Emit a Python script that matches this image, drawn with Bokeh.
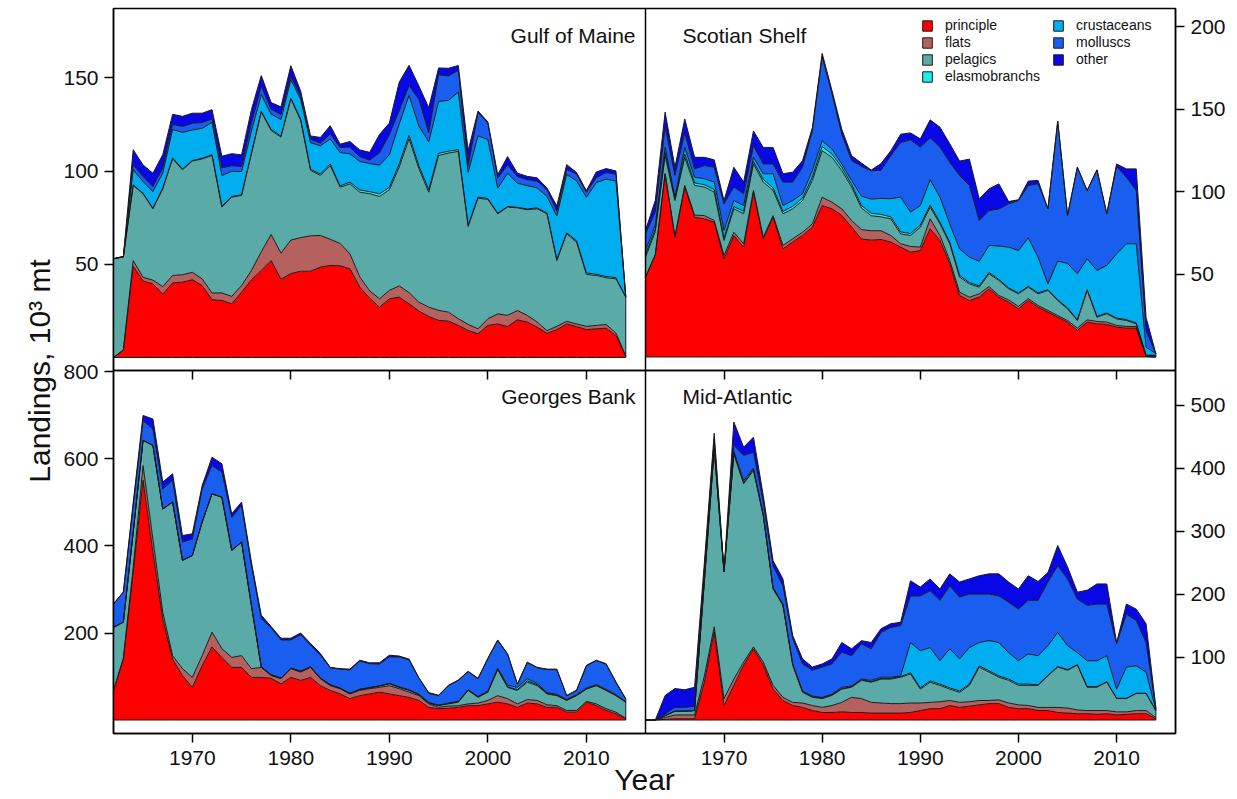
from bokeh.plotting import figure
from bokeh.models import (Range1d, LinearAxis, FixedTicker, Span, Legend, LegendItem,
                          ColumnDataSource, Label)
from bokeh.embed import file_html
from bokeh.resources import INLINE

# ---------------------------------------------------------------- data
years = list(range(1962, 2015))
series = ["principle", "flats", "pelagics", "elasmobranchs", "crustaceans", "molluscs", "other"]
series_colors = ["#FF0000", "#B5615F", "#5AAAA8", "#1EEDED", "#00AEEF", "#1A5EF0", "#0808E6"]

x_ticks = [1970, 1980, 1990, 2000, 2010]
gom_ticks = [50, 100, 150]
ss_ticks = [50, 100, 150, 200]
gb_ticks = [200, 400, 600, 800]
ma_ticks = [100, 200, 300, 400, 500]

# Gulf of Maine
gom_principle = [0, 4, 49, 41, 39.5, 34, 40, 40.4, 41.7, 38.6,
                 31, 30.6, 28.8, 35, 41.7, 46.7, 52, 42, 45, 46.3,
                 46.3, 48.5, 49.4, 49.2, 47.6, 37.8, 31.8, 27, 31.5, 32.4,
                 28.8, 24.9, 22, 19.9, 19.5, 17.2, 14.5, 12.7, 17.2, 18,
                 16.6, 20.2, 19, 16.3, 13, 14.9, 18, 16.6, 14.9, 15.4,
                 15.7, 11.8, 0.5]
gom_flats = [0, 0, 3, 2, 2, 4, 4, 4, 4, 3.6,
             3.6, 4, 4, 3.6, 5, 10, 14, 14, 18, 18,
             19, 17, 14, 12, 8, 5.4, 4, 4.5, 4.5, 6,
             6, 4.8, 5, 5.4, 4.8, 3.6, 3.2, 2.7, 3.6, 5.4,
             6, 5, 3.6, 2.7, 1.4, 1.8, 1.4, 1.4, 1.8, 1.8,
             2, 1.3, 0.5]
gom_pelagics = [53, 50, 40.3, 44.8, 38.3, 52.5, 62.6, 56.3, 59.7, 64.4,
                73.8, 46.1, 53.2, 48.4, 62.6, 75, 55.8, 62.3, 75.8, 62.9,
                35.1, 32.2, 39.6, 30.2, 37.6, 45.5, 52.1, 54.9, 54, 63.8,
                82.6, 71.6, 61.7, 83.1, 85.4, 89.8, 52.6, 70.1, 64, 53.7,
                58.1, 55.1, 56.7, 60.8, 62.7, 35.3, 47, 43.9, 27.9, 26.8,
                25.1, 29.1, 31.4]
gom_elasmobranchs = [0, 0, 0.4, 0.3, 0.3, 0.4, 0.5, 0.4, 0.3, 0.3,
                     0.4, 0.5, 0.4, 0.3, 0.4, 0.5, 0.6, 0.5, 0.4, 0.5,
                     0.6, 0.7, 0.8, 0.7, 0.9, 1.2, 1.1, 1.4, 1.3, 1.7,
                     1.8, 1.5, 1.4, 1.2, 1.0, 0.9, 0.8, 0.6, 0.5, 0.4,
                     0.3, 0.3, 0.4, 0.5, 0.4, 0.6, 0.5, 0.7, 0.8, 0.6,
                     0.7, 0.6, 0]
gom_crustaceans = [0, 0, 8.1, 6.3, 8.9, 8.1, 15.2, 19.7, 16.4, 16.1,
                   17.4, 16.5, 13.5, 12.5, 11.7, 8.9, 8.2, 8.9, 9.9, 10.8,
                   14.3, 15.2, 13.5, 17.9, 15.2, 15.3, 15.1, 15.4, 17.5, 21.4,
                   21.4, 21.4, 25.6, 27.8, 27.3, 30.9, 28.3, 32.8, 31.7, 13.4,
                   17.9, 12.9, 12.5, 10.7, 8.9, 23.3, 31.3, 32.2, 40.6, 49.2,
                   52.2, 51.9, 0]
gom_molluscs = [0, 0, 2.6, 2.7, 2.7, 2.7, 2.7, 3.2, 3.6, 3.1,
                1.8, 4.1, 3, 2.7, 4.4, 4.5, 2.6, 2.8, 1.8, 1.7,
                1.8, 1.4, 2.7, 2.7, 3.6, 2.6, 1.8, 6.6, 10.8, 7.2,
                5.4, 14.3, 4.9, 14.3, 13.1, 11.7, 3.6, 12.5, 8.9, 5.4,
                4.4, 3.6, 3.2, 3.6, 3.6, 2.7, 2.7, 3.6, 2.7, 2.7,
                3.6, 3.6, 0]
gom_other = [0, 0.3, 8.1, 6.2, 7.2, 7.1, 5.5, 5.4, 5.4, 5,
             5, 6.2, 6.5, 6.2, 7.2, 5.7, 3.6, 4, 5.7, 2.7,
             1.8, 3.1, 4.4, 1.8, 3, 3.6, 4.2, 9.9, 6.2, 15.2,
             10.8, 7.2, 13.4, 3.7, 4.1, 2.6, 8, 0.9, 0.5, 1.8,
             4.5, 1.8, 1.8, 1.8, 0.9, 2.7, 2.6, 0.9, 0.8, 3,
             2.1, 1.8, 0]

# Scotian Shelf
ss_principle = [48.4, 62, 111, 72.6, 103, 84.7, 83.7, 81.7, 59.5, 73.6,
                66.6, 99.9, 71.6, 84.7, 65.6, 69.6, 73.6, 78.7, 91.8, 89.8,
                85.8, 78.7, 71.5, 70.8, 71.2, 69.6, 66.6, 63.5, 64.5, 77.7,
                70.6, 56.5, 37.3, 34.2, 36.3, 41.3, 36.3, 33.2, 29.2, 34.2,
                30.2, 27.2, 24.1, 21.1, 16.1, 21.1, 20.1, 19.7, 18.1, 17.5,
                17.5, 0.3, 0]
ss_flats = [0, 0, 0, 0.4, 1, 1.3, 2, 1, 2, 2,
            2, 1.1, 1, 1, 2, 2, 2, 2, 5, 4,
            4, 4, 5.7, 5.7, 5.3, 4, 2, 3.5, 2.1, 6,
            3, 2, 2, 2, 2, 1.4, 1, 1.4, 1.4, 1.2,
            1, 1, 1, 1, 1.4, 1.4, 1.4, 1.4, 1, 1,
            1, 0, 0]
ss_pelagics = [12.1, 14, 11, 21.8, 17, 18, 17.3, 17.2, 9.1, 14.2,
               18.2, 16, 33.4, 15.3, 19.2, 18.2, 19.2, 26.3, 28.2, 27.2,
               23.2, 20.3, 13.1, 9.1, 8.4, 10.1, 6, 6.6, 12.1, 7.1,
               7.1, 10.1, 9.1, 8.1, 4, 7.7, 9.1, 6.7, 7.7, 6.9,
               7.1, 12.1, 9.1, 7.1, 4.6, 17.8, 2.6, 5.1, 4, 3.6,
               1.6, 0.7, 1]
ss_elasmobranchs = [1.5, 1.4, 2, 1, 2, 1.5, 1.4, 1.6, 1.5, 1.3,
                    1.5, 1.4, 1.6, 1.5, 1.4, 1.5, 1.5, 2, 2.5, 2,
                    2, 1.5, 1.5, 1.5, 1.5, 1.2, 1.2, 1.2, 1.2, 1.2,
                    1, 1, 1, 0.8, 0.8, 0.8, 0.6, 0.6, 0.5, 0.5,
                    0.5, 0.5, 0.5, 0.5, 0.5, 0.5, 0.5, 0.5, 0.5, 0.5,
                    0.5, 0, 0]
ss_crustaceans = [2.5, 2.6, 3, 1.1, 4, 3.5, 3.6, 4.5, 4.6, 3.7,
                  3.5, 2.6, 3.4, 8.5, 3.6, 3.5, 2.6, 4, 3.5, 3,
                  2, 2.5, 5.6, 8.6, 9.7, 11, 21.1, 13, 11.9, 15.4,
                  15.2, 11.1, 16.1, 15.4, 14.9, 16.4, 20.2, 24.7, 25.7, 29.4,
                  21.7, 3.5, 23.4, 27, 27.8, 18.7, 27.8, 28.8, 38.9, 46,
                  48, 5, 1]
ss_molluscs = [10.1, 8, 12.3, 13.1, 9, 5, 8, 9, 16.1, 8.2,
               7.1, 7, 6, 6, 14.2, 11.2, 16.1, 24, 51, 33.5,
               18, 12, 18.1, 17.1, 17.1, 26.1, 33.1, 43.8, 35.4, 25.4,
               30.3, 37.3, 44.5, 43.5, 24.7, 21.1, 22.5, 26.2, 30.3, 31.7,
               44.5, 45.5, 84.8, 29.1, 64.6, 41.4, 61, 31.3, 52.9, 40.3,
               32.3, 10, 0]
ss_other = [2.1, 7, 9.1, 5, 8.3, 7, 5, 4.5, 2, 12,
            7.1, 9, 10, 10, 5, 6, 4, 2, 2, 2,
            3, 3, 2, 0.5, 4, 3, 5, 4.2, 5, 10.9,
            12.1, 11.2, 8.7, 15.9, 13.2, 13.2, 15.2, 1.4, 0.5, 2.7,
            2, 0, 0, 0, 0, 0, 0, 0, 1.6, 5.1,
            13.1, 8, 0]

# Georges Bank
gb_principle = [68, 140, 340, 551, 385, 232, 140, 102, 75, 125,
                168, 144, 121, 121, 98, 98, 96, 83, 98, 91,
                98, 79, 68, 60, 49, 56, 60, 64, 60, 56,
                52, 45, 29, 26, 27, 29, 33, 33, 37, 41,
                37, 29, 39, 37, 29, 29, 18, 18, 41, 33,
                22, 14, 3]
gb_flats = [0, 2, 10, 34, 31, 16, 8, 16, 23, 23,
            34, 20, 23, 27, 20, 23, 6, 12, 20, 19,
            23, 16, 11, 12, 11, 12, 12, 11, 19, 16,
            12, 11, 8, 3, 5, 4, 4, 6, 8, 15,
            12, 8, 8, 8, 6, 4, 4, 4, 2, 4,
            4, 4, 1]
gb_pelagics = [145, 83, 82, 58, 215, 237, 353, 249, 280, 307,
               318, 348, 246, 261, 145, 1, 2, 1, 1, 2,
               1, 1, 2, 1, 1, 2, 2, 3, 4, 3,
               4, 2, 2, 4, 5, 8, 31, 13, 19, 60,
               26, 31, 40, 34, 25, 23, 23, 34, 28, 42,
               42, 38, 37]
gb_elasmobranchs = [0, 0, 0, 0, 0, 0, 0, 0, 0, 0,
                    0, 0, 0, 0, 0, 0, 0, 0, 0, 0,
                    0, 0, 0, 0, 0, 0.5, 0.5, 0.5, 1, 1,
                    1, 1, 1, 1, 1, 1, 1, 1, 1, 1,
                    1, 2, 3, 2, 1, 1, 0.5, 0.5, 0.5, 0.5,
                    0.5, 0.5, 0]
gb_crustaceans = [0, 0, 0, 0, 0, 0, 0, 0, 0, 0,
                  0, 0, 0, 0, 0, 0, 0, 0, 0, 0,
                  0, 0, 0, 0, 0, 0, 0, 0, 0, 0,
                  0, 0, 0, 0, 1, 1, 1, 1, 2, 2,
                  4, 5, 5, 3, 2, 2, 2, 2, 2, 2,
                  2, 2, 1]
gb_molluscs = [54, 69, 61, 45, 38, 46, 50, 42, 38, 76,
               65, 58, 76, 84, 92, 111, 108, 88, 65, 84,
               50, 53, 39, 44, 54, 65, 55, 50, 61, 69,
               69, 37, 21, 22, 40, 48, 41, 41, 74, 64,
               71, 7, 37, 36, 53, 57, 8, 9, 51, 55,
               58, 28, 6]
gb_other = [0, 0, 7, 12, 23, 16, 15, 15, 12, 8,
            19, 19, 8, 8, 8, 8, 3, 4, 4, 4,
            4, 4, 1, 1, 2, 2, 2, 3, 4, 2,
            2, 1, 2, 1, 1, 1, 1, 1, 1, 1,
            1, 1, 1, 1, 1, 1, 1, 1, 1, 1,
            1, 1, 1]

# Mid-Atlantic
ma_principle = [0, 0, 1, 2, 2, 2, 60, 140, 23, 55,
                87, 113, 87, 49, 31, 23, 20, 15, 12, 12,
                13, 12, 12, 11, 11, 11, 11, 12, 15, 18,
                18, 23, 20, 22, 24, 26, 26, 20, 18, 18,
                15, 15, 12, 11, 10, 10, 9, 10, 8, 9,
                10, 10, 2]
ma_flats = [0, 0, 3, 6, 6, 6, 10, 8, 11, 10,
            5, 3, 5, 6, 5, 5, 7, 8, 8, 11,
            15, 24, 22, 17, 16, 15, 15, 15, 12, 10,
            11, 8, 8, 7, 7, 5, 6, 7, 6, 5,
            5, 5, 8, 8, 6, 5, 6, 5, 5, 4,
            5, 5, 2]
ma_pelagics = [0, 0, 3, 6, 6, 7, 150, 282, 201, 357,
               283, 280, 232, 153, 146, 59, 17, 13, 14, 16,
               21, 16, 29, 32, 38, 39, 42, 46, 22, 32,
               26, 18, 16, 26, 53, 45, 36, 36, 31, 32,
               35, 50, 64, 60, 71, 37, 37, 45, 21, 21,
               27, 27, 11]
ma_elasmobranchs = [0, 0, 0, 0, 0, 0, 1, 1, 0, 2,
                    2, 2, 1, 1, 1, 1, 1, 1, 1, 1,
                    1, 1, 1, 1, 1, 1, 1, 2, 2, 2,
                    2, 2, 2, 2, 2, 2, 2, 2, 2, 2,
                    1, 1, 1, 1, 1, 1, 1, 1, 0.5, 0.5,
                    0.5, 0.5, 0]
ma_crustaceans = [0, 0, 0, 0, 0, 0, 1, 1, 0, 2,
                  3, 2, 1, 1, 1, 1, 1, 1, 1, 1,
                  2, 1, 1, 2, 2, 2, 1, 48, 59, 53,
                  37, 62, 51, 58, 37, 48, 53, 42, 37, 48,
                  46, 47, 54, 38, 19, 41, 41, 41, 14.5, 49.5,
                  43.5, 33.5, 1]
ma_molluscs = [0, 0, 3, 6, 6, 7, 18, 13, 1, 10,
               40, 25, 20, 35, 29, 40, 43, 41, 48, 48,
               56, 48, 56, 50, 71, 79, 80, 74, 87, 90,
               96, 100, 98, 85, 77, 74, 74, 80, 82, 85,
               88, 101, 106, 106, 85, 88, 90, 82, 72, 84,
               72, 47, 2]
ma_other = [0, 0, 29, 30, 28, 30, 10, 10, 1, 37,
            13, 24, 10, 8, 11, 5, 8, 5, 5, 8,
            15, 11, 5, 10, 6, 6, 5, 24, 14, 19,
            18, 19, 24, 24, 29, 32, 35, 32, 32, 39,
            30, 15, 32, 19, 11, 24, 32, 32, 2, 16,
            18, 30, 2]

# ---------------------------------------------------------------- layout constants (pixels)
BORDER_L, BORDER_T, BORDER_R, BORDER_B = 113, 8, 54, 66
FRAME_W, FRAME_H = 1062, 725
LEFT_W, RIGHT_W = 532, 530
TOP_H, BOT_H = 362, 363
XMIN, XMAX = 1962, 2016
GOM_WIN = (-7.0, 187.3)
SS_WIN = (-8.2, 211.2)
GB_WIN = (-31.0, 803.4)
MA_WIN = (-21.4, 554.8)
FONT = "Liberation Sans"
EDGE = "#1a1a1a"

p = figure(frame_width=FRAME_W, frame_height=FRAME_H,
           min_border_left=BORDER_L, min_border_right=BORDER_R,
           min_border_top=BORDER_T, min_border_bottom=BORDER_B,
           x_range=Range1d(0, 1), y_range=Range1d(0, 1),
           x_axis_type=None, y_axis_type=None,
           output_backend="svg", toolbar_location=None)
p.outline_line_color = "black"
p.outline_line_width = 1.5
p.background_fill_color = "white"
p.border_fill_color = "white"

xspan = XMAX - XMIN
p.extra_x_ranges = {
    "xl": Range1d(XMIN, XMIN + xspan * FRAME_W / LEFT_W),
    "xr": Range1d(XMAX - xspan * FRAME_W / RIGHT_W, XMAX),
}


def top_range(lo, hi):
    return Range1d(hi - (hi - lo) * FRAME_H / TOP_H, hi)


def bot_range(lo, hi):
    return Range1d(lo, lo + (hi - lo) * FRAME_H / BOT_H)


p.extra_y_ranges = {
    "gom": top_range(*GOM_WIN),
    "ss": top_range(*SS_WIN),
    "gb": bot_range(*GB_WIN),
    "ma": bot_range(*MA_WIN),
}

panels = [
    ("xl", "gom", [gom_principle, gom_flats, gom_pelagics, gom_elasmobranchs,
                   gom_crustaceans, gom_molluscs, gom_other]),
    ("xr", "ss", [ss_principle, ss_flats, ss_pelagics, ss_elasmobranchs,
                  ss_crustaceans, ss_molluscs, ss_other]),
    ("xl", "gb", [gb_principle, gb_flats, gb_pelagics, gb_elasmobranchs,
                  gb_crustaceans, gb_molluscs, gb_other]),
    ("xr", "ma", [ma_principle, ma_flats, ma_pelagics, ma_elasmobranchs,
                  ma_crustaceans, ma_molluscs, ma_other]),
]

sources = {}
for xr_name, yr_name, cols in panels:
    data = {"year": years}
    data.update(dict(zip(series, cols)))
    src = ColumnDataSource(data)
    sources[yr_name] = src
    p.varea_stack(series, x="year", source=src, fill_color=series_colors,
                  x_range_name=xr_name, y_range_name=yr_name)
    p.vline_stack(series, x="year", source=src, line_color=EDGE, line_width=1,
                  x_range_name=xr_name, y_range_name=yr_name)
    p.line(x="year", y=0, source=src, line_color=EDGE, line_width=1,
           x_range_name=xr_name, y_range_name=yr_name)
    # closing edge of the stacked polygons at the last year
    end_src = ColumnDataSource(dict(year=[years[-1]], total=[sum(c[-1] for c in cols)]))
    p.segment(x0="year", y0=0, x1="year", y1="total", source=end_src,
              line_color=EDGE, line_width=1, x_range_name=xr_name, y_range_name=yr_name)


# ---- tick positions of every panel expressed as a fraction of the whole frame
def frac_top(v, win):
    lo, hi = win
    return round((BOT_H + (v - lo) / (hi - lo) * TOP_H) / FRAME_H, 6)


def frac_bot(v, win):
    lo, hi = win
    return round((v - lo) / (hi - lo) * BOT_H / FRAME_H, 6)


def frac_left(yr):
    return round((yr - XMIN) / xspan * LEFT_W / FRAME_W, 6)


def frac_right(yr):
    return round((LEFT_W + (yr - XMIN) / xspan * RIGHT_W) / FRAME_W, 6)


def ticker_and_labels(pairs):
    ticks = [t for t, _ in pairs]
    overrides = {}
    for t, v in pairs:
        overrides[t] = str(v)
        overrides[str(t)] = str(v)
    return FixedTicker(ticks=ticks), overrides


def style_axis(ax, standoff=6, labels=True):
    ax.major_tick_in = 0
    ax.major_tick_out = 9
    ax.minor_tick_line_color = None
    ax.axis_line_color = "black"
    ax.axis_line_width = 1.5
    ax.major_tick_line_color = "black"
    ax.major_tick_line_width = 1.5
    ax.major_label_text_font = FONT
    ax.major_label_text_font_size = "21px"
    ax.major_label_text_color = "#111111" if labels else None
    ax.major_label_standoff = standoff
    ax.axis_label_text_font = FONT
    ax.axis_label_text_font_style = "normal"
    ax.axis_label_text_font_size = "30px"
    ax.axis_label_text_color = "#111111"
    return ax


# bottom x axis (both bottom panels) with the shared "Year" title
tk, ov = ticker_and_labels([(frac_left(y), y) for y in x_ticks] +
                           [(frac_right(y), y) for y in x_ticks])
ax = style_axis(LinearAxis(ticker=tk, major_label_overrides=ov, axis_label="Year"), standoff=8)
ax.axis_label_standoff = -5
p.add_layout(ax, "below")

# tick marks of the top panels, on the divider line
for name in ("xl", "xr"):
    ax = style_axis(LinearAxis(x_range_name=name, ticker=FixedTicker(ticks=x_ticks),
                               fixed_location=BOT_H / FRAME_H), labels=False)
    p.add_layout(ax, "below")

# left y axis (Gulf of Maine + Georges Bank)
tk, ov = ticker_and_labels([(frac_top(v, GOM_WIN), v) for v in gom_ticks] +
                           [(frac_bot(v, GB_WIN), v) for v in gb_ticks])
ax = style_axis(LinearAxis(ticker=tk, major_label_overrides=ov, axis_label="Landings, 10³ mt"))
ax.axis_label_standoff = 4
p.add_layout(ax, "left")

# right y axis (Scotian Shelf + Mid-Atlantic)
tk, ov = ticker_and_labels([(frac_top(v, SS_WIN), v) for v in ss_ticks] +
                           [(frac_bot(v, MA_WIN), v) for v in ma_ticks])
ax = style_axis(LinearAxis(ticker=tk, major_label_overrides=ov))
p.add_layout(ax, "right")

# vertical divider
p.add_layout(Span(location=LEFT_W / FRAME_W, dimension="height",
                  line_color="black", line_width=1.5))

# panel titles (positions in px from the frame's bottom-left corner)
for text, px, py, align in [("Gulf of Maine", 522, 698, "right"),
                            ("Scotian Shelf", 569, 698, "left"),
                            ("Georges Bank", 522, 337, "right"),
                            ("Mid-Atlantic", 569, 337, "left")]:
    p.add_layout(Label(x=px / FRAME_W, y=py / FRAME_H, text=text, text_align=align,
                       text_baseline="middle", text_font=FONT,
                       text_font_size="21px", text_color="#111111"))

# legend (two columns); swatches come from hidden patch renderers of the series
items1, items2 = [], []
for i, (name, col) in enumerate(zip(series, series_colors)):
    r = p.patch(x="year", y=name, source=sources["ss"], fill_color=col,
                line_color=EDGE, line_width=1, visible=False,
                x_range_name="xr", y_range_name="ss")
    (items1 if i < 4 else items2).append(LegendItem(label=name, renderers=[r]))

for items, loc in [(items1, (808, 649)), (items2, (939, 666))]:
    leg = Legend(items=items, location=loc, orientation="vertical",
                 border_line_color=None, background_fill_alpha=0,
                 padding=0, margin=0, spacing=1, label_standoff=12,
                 glyph_width=12, glyph_height=13, label_height=14,
                 inactive_fill_alpha=0,
                 label_text_font=FONT, label_text_font_size="14px",
                 label_text_color="#111111")
    p.add_layout(leg)

open("out.html", "w").write(file_html(p, INLINE, "Landings"))
